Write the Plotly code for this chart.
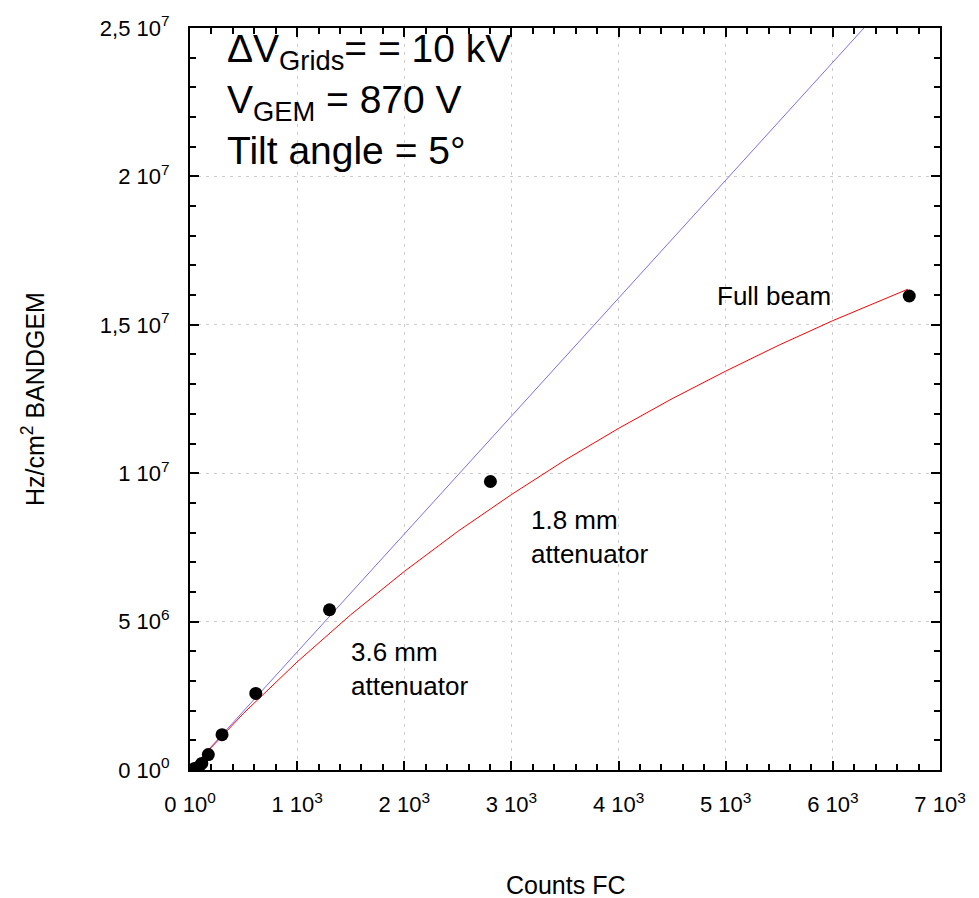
import plotly.graph_objects as go

# Measured rates: Faraday-cup counts vs. BANDGEM rate (Hz/cm^2)
counts_fc = [40, 80, 110, 171, 299, 614, 1302, 2804, 6713]
rate_hz_cm2 = [0.05e6, 0.10e6, 0.22e6, 0.52e6, 1.19e6, 2.58e6, 5.40e6, 9.72e6, 15.97e6]

# Linear expectation (no saturation)
linear_x = [0, 6290]
linear_y = [0, 2.5e7]

# Saturation fit curve
fit_x = [0, 500, 1000, 1500, 2000, 2500, 3000, 3500, 4000, 4500, 5000, 5500, 6000, 6500, 6700]
fit_y = [0, 1.91e6, 3.64e6, 5.23e6, 6.69e6, 8.04e6, 9.28e6, 10.44e6, 11.51e6,
         12.51e6, 13.44e6, 14.32e6, 15.14e6, 15.91e6, 16.20e6]

x_ticks = [0, 1000, 2000, 3000, 4000, 5000, 6000, 7000]
x_tick_text = ["0 10<sup>0</sup>", "1 10<sup>3</sup>", "2 10<sup>3</sup>", "3 10<sup>3</sup>",
               "4 10<sup>3</sup>", "5 10<sup>3</sup>", "6 10<sup>3</sup>", "7 10<sup>3</sup>"]
y_ticks = [0, 5e6, 1e7, 1.5e7, 2e7, 2.5e7]
y_tick_text = ["0 10<sup>0</sup>", "5 10<sup>6</sup>", "1 10<sup>7</sup>", "1,5 10<sup>7</sup>",
               "2 10<sup>7</sup>", "2,5 10<sup>7</sup>"]

FONT = "Liberation Sans, Arial, sans-serif"

fig = go.Figure()
fig.add_trace(go.Scatter(x=linear_x, y=linear_y, mode="lines",
                         line=dict(color="#7f6cf0", width=1), showlegend=False))
fig.add_trace(go.Scatter(x=fit_x, y=fit_y, mode="lines",
                         line=dict(color="#ff0000", width=1), showlegend=False))
fig.add_trace(go.Scatter(x=counts_fc, y=rate_hz_cm2, mode="markers",
                         marker=dict(color="black", size=13), showlegend=False))

axis_common = dict(
    showline=True, linecolor="black", linewidth=2, mirror="allticks",
    ticks="inside", ticklen=9, tickwidth=1.5, tickcolor="black",
    showgrid=True, gridcolor="#cccccc", griddash="3px,5px", gridwidth=1,
    zeroline=False, tickfont=dict(family=FONT, size=22, color="black"),
    tickmode="array",
)

fig.update_xaxes(**axis_common, range=[0, 7000], tickvals=x_ticks, ticktext=x_tick_text,
                 ticklabelstandoff=14,
                 minor=dict(tickmode="linear", tick0=0, dtick=200, ticks="inside",
                            ticklen=6, tickwidth=1.5, tickcolor="black", showgrid=False))
fig.update_yaxes(**axis_common, range=[0, 2.5e7], tickvals=y_ticks, ticktext=y_tick_text,
                 ticklabelstandoff=14,
                 minor=dict(tickmode="linear", tick0=0, dtick=1e6, ticks="inside",
                            ticklen=6, tickwidth=1.5, tickcolor="black", showgrid=False))

big = dict(family=FONT, size=39, color="black")
mid = dict(family=FONT, size=26, color="black")

annotations = [
    dict(text="ΔV<sub>Grids</sub>= = 10 kV", x=(225 - 190) / 750, y=(770 - 46) / 748, font=big),
    dict(text="V<sub>GEM</sub> = 870 V", x=(225 - 190) / 750, y=(770 - 97) / 748, font=big),
    dict(text="Tilt angle = 5°", x=(225 - 190) / 750, y=(770 - 145) / 748, font=big),
    dict(text="Full beam", x=(715 - 190) / 750, y=(770 - 292) / 748, font=mid),
    dict(text="1.8 mm<br>attenuator", x=(529 - 190) / 750, y=(770 - 535) / 748, font=mid),
    dict(text="3.6 mm<br>attenuator", x=(349 - 190) / 750, y=(770 - 668) / 748, font=mid),
]
for a in annotations:
    fig.add_annotation(xref="paper", yref="paper", xanchor="left", yanchor="middle",
                       showarrow=False, align="left", **a)

fig.add_annotation(text="Counts FC", xref="paper", yref="paper", x=0.5, y=0,
                   yshift=-115, xanchor="center", yanchor="middle", showarrow=False,
                   font=dict(family=FONT, size=25, color="black"))
fig.add_annotation(text="Hz/cm<sup>2</sup> BANDGEM", xref="paper", yref="paper", x=0, y=0.5,
                   xshift=-157, xanchor="center", yanchor="middle", textangle=-90,
                   showarrow=False, font=dict(family=FONT, size=25, color="black"))

fig.update_layout(
    width=979, height=898,
    margin=dict(l=190, r=39, t=22, b=128),
    plot_bgcolor="white", paper_bgcolor="white",
    font=dict(family=FONT, color="black"),
)

fig.write_html("out.html")
